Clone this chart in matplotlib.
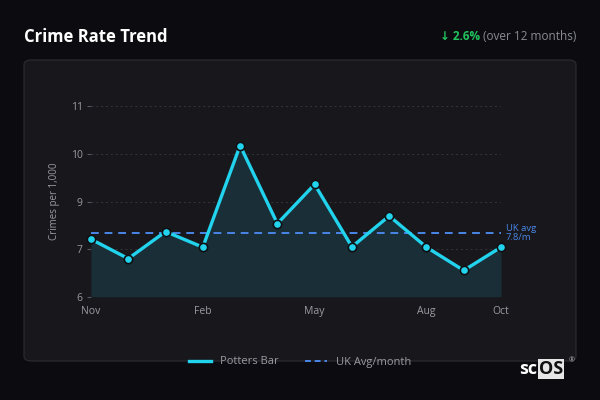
import matplotlib.pyplot as plt
from matplotlib.patches import FancyBboxPatch
from matplotlib.lines import Line2D

plt.rcParams["font.family"] = ["Open Sans", "DejaVu Sans"]

MONTHS = ["Nov", "Dec", "Jan", "Feb", "Mar", "Apr", "May", "Jun", "Jul", "Aug", "Sep", "Oct"]
RATE = [7.51, 7.00, 7.71, 7.30, 9.97, 7.92, 8.95, 7.31, 8.12, 7.30, 6.69, 7.30]
UK_AVG = 7.67
UK_LABEL = "UK avg\n7.8/m"
SHOWN_MONTHS = ["Nov", "Feb", "May", "Aug", "Oct"]
Y_TICKS = [6, 7.25, 8.5, 9.75, 11]

BG = "#0c0c10"
PANEL = "#18181c"
CYAN = "#22d3ee"
BLUE = "#4a86e8"
GREY = "#9a9aa2"

fig = plt.figure(figsize=(6, 4), dpi=100, facecolor=BG)

# panel behind the chart
panel = FancyBboxPatch((24 / 600, 1 - 361 / 400), 552 / 600, 301 / 400,
                       boxstyle="round,pad=0,rounding_size=0.012",
                       transform=fig.transFigure, facecolor=PANEL,
                       edgecolor="#2c2c32", lw=0.8, zorder=-5)
fig.patches.append(panel)

ax = fig.add_axes([91 / 600, 1 - 296.7 / 400, 410 / 600, 190.4 / 400])
ax.set_facecolor("none")
x = list(range(len(MONTHS)))

ax.fill_between(x, RATE, 6, color="#1a3038", alpha=0.95, lw=0, zorder=1)
ax.plot(x, RATE, color=CYAN, lw=2.4, zorder=3, clip_on=False)
ax.plot(x, RATE, ls="none", marker="o", ms=6, mfc=CYAN, mec="#101014",
        mew=1.2, zorder=4, clip_on=False)
ax.axhline(UK_AVG, color=BLUE, lw=1.4, ls=(0, (4, 3)), zorder=2)
ax.text(len(MONTHS) - 1 + 0.13, UK_AVG, UK_LABEL, color=BLUE, fontsize=6.8,
        va="center", ha="left", linespacing=1.1)

ax.set_xlim(0, len(MONTHS) - 1)
ax.set_ylim(6, 11)
ax.set_yticks(Y_TICKS)
ax.set_yticklabels([f"{int(v + 0.5)}" for v in Y_TICKS])
ax.set_xticks([MONTHS.index(m) for m in SHOWN_MONTHS])
ax.set_xticklabels(SHOWN_MONTHS)
ax.tick_params(axis="y", colors="#555560", labelcolor=GREY, labelsize=7.5,
               length=3, width=0.8, pad=3)
ax.tick_params(axis="x", length=0, labelcolor=GREY, labelsize=7.5, pad=7)
for s in ax.spines.values():
    s.set_visible(False)
ax.grid(axis="y", color="#34343a", lw=0.7, ls=(0, (2, 3)))
ax.set_axisbelow(True)
ax.set_ylabel("Crimes per 1,000", color=GREY, fontsize=7, labelpad=8)

# header
fig.text(24 / 600, 1 - 37 / 400, "Crime Rate Trend", color="white",
         fontsize=12, fontweight="bold", va="center", ha="left")
fig.text(576 / 600, 1 - 37 / 400, "(over 12 months)", color="#8a8a92",
         fontsize=8.5, va="center", ha="right")
fig.text(480 / 600, 1 - 37 / 400, "↓ 2.6%", color="#22c55e",
         fontsize=8.5, fontweight="bold", va="center", ha="right")

# legend
handles = [Line2D([], [], color=CYAN, lw=2.4),
           Line2D([], [], color=BLUE, lw=1.4, ls=(0, (3, 2)))]
leg = fig.legend(handles, ["Potters Bar", "UK Avg/month"], loc="center",
                 bbox_to_anchor=(0.5, 1 - 362 / 400), ncol=2, frameon=False,
                 fontsize=8, handlelength=2.0, columnspacing=2.4,
                 handletextpad=0.8)
for t in leg.get_texts():
    t.set_color(GREY)

# logo
fig.text(537 / 600, 1 - 369 / 400, "sc", color="white", fontsize=13,
         fontweight="bold", ha="right", va="center")
fig.text(539 / 600, 1 - 369 / 400, "OS", color="#111111", fontsize=13,
         fontweight="bold", ha="left", va="center",
         bbox=dict(boxstyle="square,pad=0.05", fc="#e6e6e6", ec="none"))
fig.text(572 / 600, 1 - 361 / 400, "®", color="#bbbbbb", fontsize=5,
         ha="center", va="center")

fig.savefig("out.png", dpi=100, facecolor=BG)
